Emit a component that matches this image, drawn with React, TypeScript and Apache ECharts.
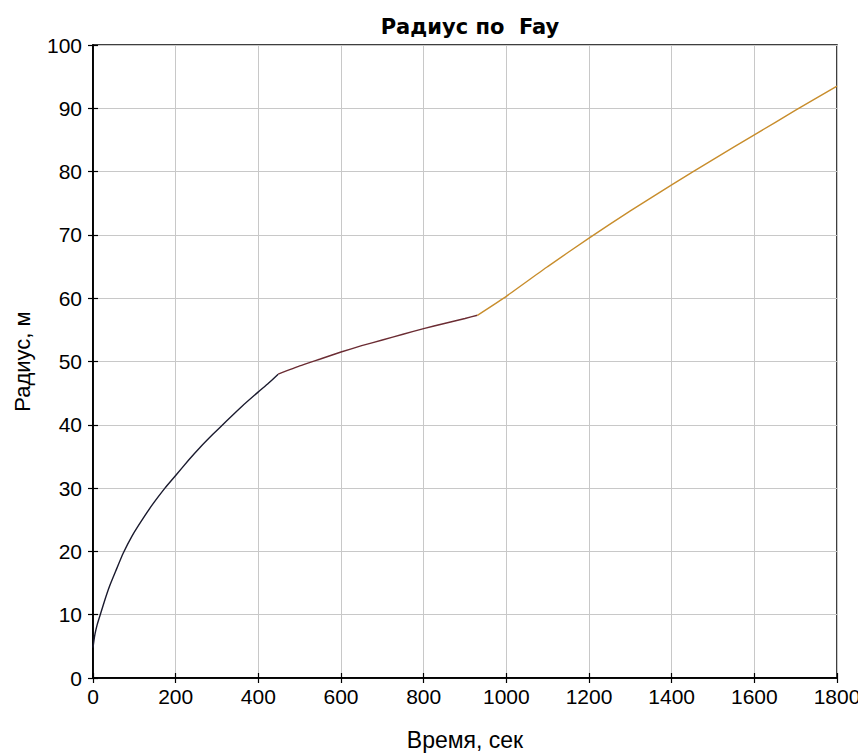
import React, { useEffect, useRef } from "react";
import * as echarts from "echarts";

// Fay spreading regimes: radius (m) against time (s)
const gravityInertia: [number, number][] = [
  [0, 4.8], [2, 5.8], [5, 7.0], [10, 8.4], [19, 10.3], [30, 12.6], [40, 14.5],
  [55, 16.9], [73, 19.7], [95, 22.5], [120, 25.1], [145, 27.5], [174, 30.0],
  [200, 32.0], [231, 34.4], [260, 36.5], [290, 38.5], [323, 40.6], [360, 42.9],
  [400, 45.2], [425, 46.6], [448, 48.0],
];
const gravityViscous: [number, number][] = [
  [448, 48.0], [500, 49.3], [550, 50.4], [600, 51.5], [650, 52.5], [700, 53.4],
  [750, 54.3], [800, 55.2], [850, 56.0], [900, 56.8], [930, 57.3],
];
const surfaceTension: [number, number][] = [
  [930, 57.3], [1000, 60.3], [1100, 65.0], [1200, 69.5], [1300, 73.8],
  [1400, 77.9], [1500, 81.9], [1600, 85.8], [1700, 89.7], [1800, 93.5],
];

const xTicks = { min: 0, max: 1800, interval: 200 };
const yTicks = { min: 0, max: 100, interval: 10 };

const FONT = "'Liberation Sans', Arial, sans-serif";

export default function App() {
  const ref = useRef<HTMLDivElement>(null);

  useEffect(() => {
    if (!ref.current) return;
    const chart = echarts.init(ref.current, undefined, { renderer: "svg" });
    const tickStyle = { show: true, inside: true, length: 5, lineStyle: { color: "#000", width: 1.2 } };
    const gridLine = { show: true, lineStyle: { color: "#c8c8c8", width: 1 } };
    const axisLine = { show: true, lineStyle: { color: "#000", width: 1.5 } };
    const line = (data: [number, number][], color: string) => ({
      type: "line",
      data,
      showSymbol: false,
      smooth: 0.15,
      lineStyle: { color, width: 1.4 },
      silent: true,
    });
    chart.setOption({
      animation: false,
      backgroundColor: "#fff",
      textStyle: { fontFamily: FONT },
      title: {
        text: "Радиус по  Fay",
        left: 457,
        top: 3,
        textAlign: "center",
        textStyle: { fontSize: 21, fontWeight: "bold", color: "#000", fontFamily: "'DejaVu Sans', sans-serif" },
      },
      grid: {
        left: 85, right: 29, top: 37, bottom: 76,
        outerBoundsMode: "none",
        containLabel: false,
        show: true, borderColor: "#000", borderWidth: 1.5, backgroundColor: "#fff",
      },
      xAxis: [
        {
          type: "value", ...xTicks,
          name: "Время, сек", nameLocation: "middle", nameGap: 50,
          nameTextStyle: { fontSize: 23, color: "#000", fontFamily: FONT },
          axisLine,
          axisTick: tickStyle,
          axisLabel: { fontSize: 21, color: "#000", margin: 8, fontFamily: FONT, formatter: (v: number) => String(v) },
          splitLine: gridLine,
        },
        {
          type: "value", ...xTicks, position: "top",
          axisLine, axisTick: tickStyle, axisLabel: { show: false }, splitLine: { show: false },
        },
      ],
      yAxis: [
        {
          type: "value", ...yTicks,
          name: "Радиус, м", nameLocation: "middle", nameGap: 60, nameRotate: 90,
          nameTextStyle: { fontSize: 22, color: "#000", fontFamily: FONT },
          axisLine,
          axisTick: tickStyle,
          axisLabel: { fontSize: 21, color: "#000", margin: 11, fontFamily: FONT, formatter: (v: number) => String(v) },
          splitLine: gridLine,
        },
        {
          type: "value", ...yTicks, position: "right",
          axisLine, axisTick: tickStyle, axisLabel: { show: false }, splitLine: { show: false },
        },
      ],
      series: [
        line(gravityInertia, "#1a1a2e"),
        line(gravityViscous, "#6b2c33"),
        line(surfaceTension, "#c88d2c"),
      ],
    });
    return () => chart.dispose();
  }, []);

  return <div ref={ref} style={{ width: 858, height: 746 }} />;
}
